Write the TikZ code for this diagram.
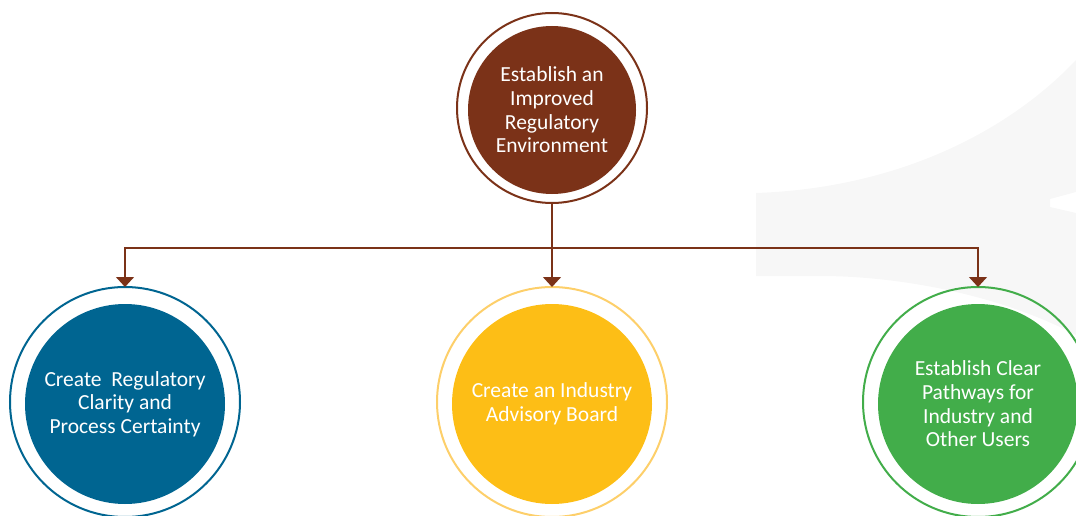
\documentclass[tikz,border=0pt]{standalone}
\usepackage{fontspec}
\setmainfont{Carlito}
\usetikzlibrary{arrows.meta}
\definecolor{cbrown}{HTML}{7B3218}
\definecolor{cblue}{HTML}{006591}
\definecolor{cyellow}{HTML}{FDBE16}
\definecolor{cyring}{HTML}{FDCF6A}
\definecolor{cgreen}{HTML}{42AD4A}
\definecolor{cbg}{HTML}{F7F7F7}
\begin{document}
\begin{tikzpicture}[x=1pt,y=-1pt,
  ring/.style={circle,draw=#1,line width=2pt,minimum size=230pt,inner sep=0pt},
  disc/.style={circle,fill=#1,minimum size=200pt,inner sep=0pt,text=white,align=center,
    font=\fontsize{21.5}{23.6}\selectfont},
  conn/.style={draw=cbrown,line width=1.5pt},
  arr/.style={conn,-{Triangle[width=18pt,length=10pt]}}]
\useasboundingbox (0,0) rectangle (1076,516);
% faint background shape
\fill[cbg] (756,193) .. controls (900,188) and (1010,130) .. (1076,60)
  -- (1076,192) -- (1050,199) -- (1050,207) -- (1076,213)
  -- (1076,335) .. controls (1000,295) and (900,276) .. (820,276)
  -- (756,276) -- cycle;
% top
\node[ring=cbrown,minimum size=190pt] (topr) at (552,108) {};
\node[disc=cbrown,minimum size=168pt] (top) at (552,110) {Establish an\\Improved\\Regulatory\\Environment};
% bottom
\node[ring=cblue] (lr) at (125,402) {};
\node[disc=cblue] (l) at (125,404) {Create\ \ Regulatory\\Clarity and\\Process Certainty};
\node[ring=cyring] (mr) at (552,402) {};
\node[disc=cyellow] (m) at (552,404) {Create an Industry\\Advisory Board};
\node[ring=cgreen] (rr) at (978,402) {};
\node[disc=cgreen] (r) at (978,404) {Establish Clear\\Pathways for\\Industry and\\Other Users};
% connectors
\coordinate (hub) at (552,248);
\draw[conn] (topr.south) -- (hub);
\draw[arr] (hub) -| ([yshift=-1pt]lr.north);
\draw[arr] (hub) -- ([yshift=-1pt]mr.north);
\draw[arr] (hub) -| ([yshift=-1pt]rr.north);
\end{tikzpicture}
\end{document}
